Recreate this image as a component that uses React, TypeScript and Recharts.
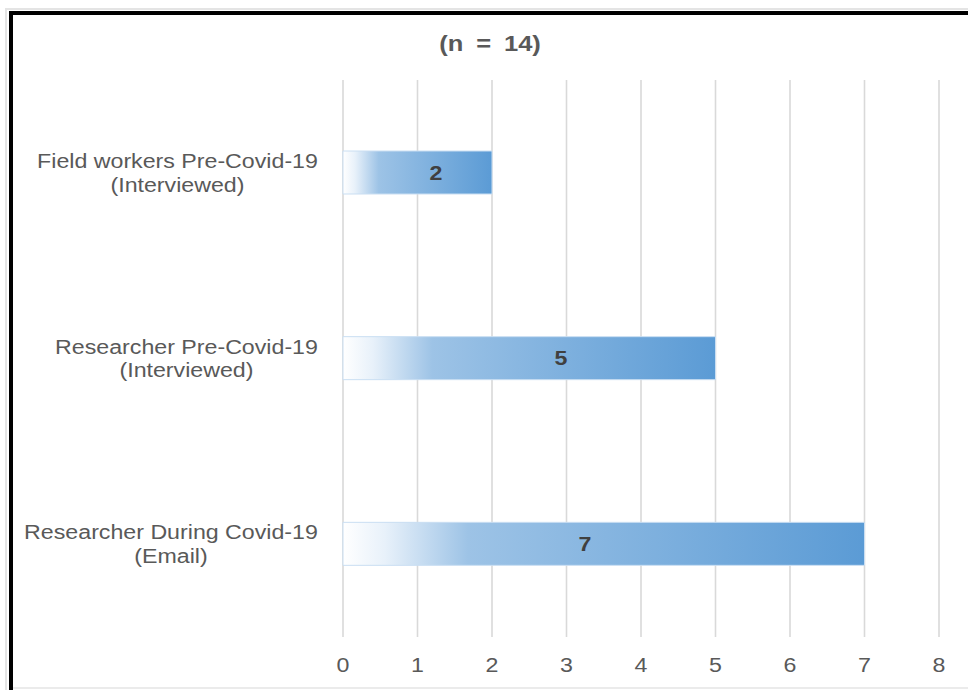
import React from "react";
import { BarChart, Bar, XAxis, YAxis, CartesianGrid, LabelList } from "recharts";

// Respondent groups (two-line labels) and their counts
const categories = [
  "Field workers Pre-Covid-19\n(Interviewed)",
  "Researcher Pre-Covid-19\n(Interviewed)",
  "Researcher During Covid-19\n(Email)",
];
const counts = [2, 5, 7];
const xTicks = [0, 1, 2, 3, 4, 5, 6, 7, 8];
const chartTitle = "(n = 14)";

const data = categories.map((name, i) => ({ name, value: counts[i] }));

const FONT = '"Liberation Sans", Arial, sans-serif';
const TEXT_GREY = "#595959";
const STRETCH = 1.16; // horizontal text stretch
const AXIS_FONT = 20;

// where each value label sits along its bar (fraction of bar length)
const labelAnchor = [0.624, 0.585, 0.464];

let ctx: CanvasRenderingContext2D | null = null;
const measure = (s: string, font: string) => {
  if (!ctx) ctx = document.createElement("canvas").getContext("2d");
  if (!ctx) return s.length * 10;
  ctx.font = font;
  return ctx.measureText(s).width;
};

const YTick = (props: any) => {
  const { x, y, payload } = props;
  const lines = String(payload.value).split("\n");
  const widest = Math.max(...lines.map((l) => measure(l, `${AXIS_FONT}px ${FONT}`)));
  const cx = x - (widest * STRETCH) / 2;
  return (
    <g transform={`translate(${cx},${y}) scale(${STRETCH},1)`}>
      {lines.map((l, i) => (
        <text
          key={i}
          x={0}
          y={-5 + i * 24}
          textAnchor="middle"
          fill={TEXT_GREY}
          fontSize={AXIS_FONT}
          fontFamily={FONT}
        >
          {l}
        </text>
      ))}
    </g>
  );
};

const XTick = (props: any) => {
  const { x, y, payload } = props;
  return (
    <g transform={`translate(${x},${y}) scale(${STRETCH},1)`}>
      <text x={0} y={0} textAnchor="middle" fill={TEXT_GREY} fontSize={AXIS_FONT} fontFamily={FONT}>
        {payload.value}
      </text>
    </g>
  );
};

const ValueLabel = (props: any) => {
  const { x, y, width, height, value, index } = props;
  const lx = x + width * (labelAnchor[index] ?? 0.5);
  const ly = y + height / 2 + 7;
  return (
    <g transform={`translate(${lx},${ly}) scale(${STRETCH},1)`}>
      <text x={0} y={0} textAnchor="middle" fill="#404040" fontSize={20} fontWeight="bold" fontFamily={FONT}>
        {value}
      </text>
    </g>
  );
};

export default function App() {
  return (
    <div
      style={{
        position: "absolute",
        left: 0,
        top: 0,
        width: 968,
        height: 690,
        background: "#ffffff",
        overflow: "hidden",
      }}
    >
      {/* frame */}
      <div style={{ position: "absolute", left: 5, top: 8, width: 2, height: 682, background: "#e4e4e4" }} />
      <div style={{ position: "absolute", left: 5, top: 8, width: 963, height: 2, background: "#e4e4e4" }} />
      <div style={{ position: "absolute", left: 9, top: 11, width: 959, height: 4, background: "#000" }} />
      <div style={{ position: "absolute", left: 9, top: 11, width: 4, height: 679, background: "#000" }} />
      <div style={{ position: "absolute", left: 13, top: 687, width: 955, height: 2, background: "#ebebeb" }} />

      <div style={{ position: "absolute", left: 0, top: 0 }}>
        <BarChart
          layout="vertical"
          width={968}
          height={690}
          data={data}
          margin={{ top: 80, right: 29, bottom: 0, left: 0 }}
        >
          <defs>
            <linearGradient id="barFade" x1="0" y1="0" x2="1" y2="0">
              <stop offset="0" stopColor="#ffffff" />
              <stop offset="0.08" stopColor="#e8f1fa" />
              <stop offset="0.24" stopColor="#9dc3e6" />
              <stop offset="1" stopColor="#5b9bd5" />
            </linearGradient>
          </defs>
          <CartesianGrid horizontal={false} stroke="#d9d9d9" strokeWidth={1.6} />
          <XAxis
            type="number"
            domain={[0, 8]}
            ticks={xTicks}
            interval={0}
            axisLine={false}
            tickLine={false}
            tickSize={0}
            tickMargin={35}
            height={53}
            tick={<XTick />}
          />
          <YAxis
            type="category"
            dataKey="name"
            width={343}
            axisLine={false}
            tickLine={false}
            tickSize={0}
            tickMargin={25}
            interval={0}
            tick={<YTick />}
          />
          <Bar dataKey="value" fill="url(#barFade)" stroke="#c9def2" strokeWidth={1} barSize={43} isAnimationActive={false}>
            <LabelList dataKey="value" content={<ValueLabel />} />
          </Bar>
        </BarChart>
      </div>

      <svg style={{ position: "absolute", left: 0, top: 0 }} width={968} height={80}>
        <g transform={`translate(490,51) scale(${STRETCH},1)`}>
          <text
            x={0}
            y={0}
            textAnchor="middle"
            fill={TEXT_GREY}
            fontSize={22}
            fontWeight="bold"
            fontFamily={FONT}
            style={{ wordSpacing: 5 }}
          >
            {chartTitle}
          </text>
        </g>
      </svg>
    </div>
  );
}
